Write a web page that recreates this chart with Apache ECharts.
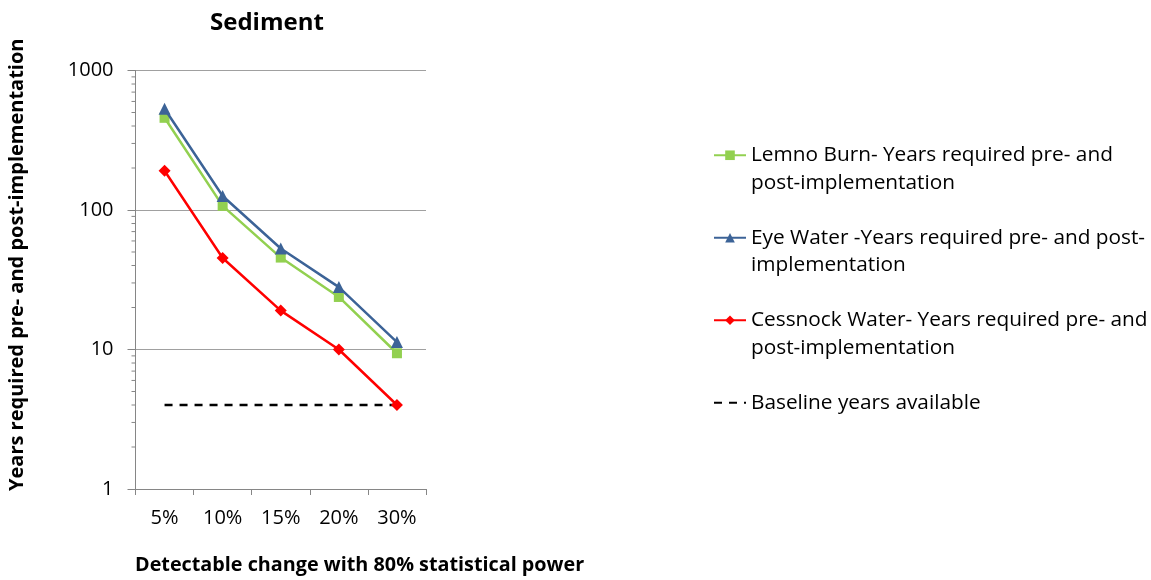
<!DOCTYPE html>
<html>
<head>
<meta charset="utf-8">
<script src="https://cdn.jsdelivr.net/npm/echarts@6/dist/echarts.min.js"></script>
<style>
  html, body { margin: 0; padding: 0; background: #fff; }
  #chart { width: 1151px; height: 580px; }
</style>
</head>
<body>
<div id="chart"></div>
<script>
const FONT = 'Open Sans';
const categories = ['5%', '10%', '15%', '20%', '30%'];
const lemnoBurn = [458, 107, 45.6, 23.8, 9.4];
const eyeWater = [532, 126, 53, 28, 11.3];
const cessnockWater = [191, 45.3, 19, 10, 4];
const baselineYears = [4, 4, 4, 4, 4];
const yMinorTickValues = [2, 3, 4, 5, 6, 7, 8, 9, 20, 30, 40, 50, 60, 70, 80, 90, 200, 300, 400, 500, 600, 700, 800, 900];

const seriesNames = [
  'Lemno Burn- Years required pre- and post-implementation',
  'Eye Water -Years required pre- and post-implementation',
  'Cessnock Water- Years required pre- and post-implementation',
  'Baseline years available'
];
const legendLines = [
  ['Lemno Burn- Years required pre- and', 'post-implementation'],
  ['Eye Water -Years required pre- and post-', 'implementation'],
  ['Cessnock Water- Years required pre- and', 'post-implementation'],
  ['Baseline years available']
];

const chart = echarts.init(document.getElementById('chart'));
const twoLine = { padding: [27.5, 0, 0, 0], backgroundColor: 'rgba(0,0,0,0)' };
const oneLine = { padding: [27.5, 0, 27.5, 0], backgroundColor: 'rgba(0,0,0,0)' };

chart.setOption({
  animation: false,
  textStyle: { fontFamily: FONT },
  title: [
    { text: 'Sediment', left: 210, top: 11, padding: 0,
      textStyle: { fontFamily: FONT, fontSize: 24, fontWeight: 'bold', color: '#000' } },
    { text: 'Detectable change with 80% statistical power', left: 135, top: 555, padding: 0,
      textStyle: { fontFamily: FONT, fontSize: 19.8, fontWeight: 'bold', color: '#000' } }
  ],
  grid: { left: 135.5, right: 725, top: 70.5, bottom: 91, containLabel: false },
  legend: {
    orient: 'vertical', left: 713, top: 114, padding: 0, itemGap: 0,
    itemWidth: 32, itemHeight: 12,
    textStyle: {
      fontFamily: FONT, fontSize: 20.8, lineHeight: 27.5, color: '#000',
      rich: { a: { fontFamily: FONT, fontSize: 20.8, lineHeight: 27.5, color: '#000' } }
    },
    formatter: name => legendLines[seriesNames.indexOf(name)].map(s => '{a|' + s + '}').join('\n'),
    data: [
      { name: seriesNames[0], textStyle: twoLine },
      { name: seriesNames[1], textStyle: twoLine },
      { name: seriesNames[2], textStyle: twoLine },
      { name: seriesNames[3], textStyle: oneLine, itemStyle: { opacity: 0 } }
    ]
  },
  xAxis: {
    type: 'category', data: categories, boundaryGap: true,
    axisLine: { lineStyle: { color: '#868686', width: 1 } },
    axisTick: { show: true, length: 6, lineStyle: { color: '#868686' } },
    axisLabel: { fontFamily: FONT, fontSize: 20, color: '#000', margin: 19 },
    splitLine: { show: false }
  },
  yAxis: {
    type: 'log', logBase: 10, min: 1, max: 1000,
    name: 'Years required pre- and post-implementation',
    nameLocation: 'middle', nameGap: 108,
    nameTextStyle: { fontFamily: FONT, fontSize: 20, fontWeight: 'bold', color: '#000', padding: [0, 0, 0, 30] },
    axisLine: { show: true, lineStyle: { color: '#868686', width: 1 } },
    axisTick: { show: true, length: 8, lineStyle: { color: '#868686' } },
    axisLabel: { fontFamily: FONT, fontSize: 20, color: '#000', margin: 22, formatter: v => String(v) },
    splitLine: { show: true, lineStyle: { color: '#a0a0a0', width: 1 } }
  },
  series: [
    {
      name: seriesNames[3], type: 'line', data: baselineYears,
      symbol: 'none', z: 2,
      lineStyle: { color: '#000', width: 2.5, type: [8, 7] },
      itemStyle: { color: '#000' }
    },
    {
      name: seriesNames[0], type: 'line', data: lemnoBurn,
      symbol: 'rect', symbolSize: 10, z: 3,
      lineStyle: { color: '#92D050', width: 2.5 },
      itemStyle: { color: '#92D050' }
    },
    {
      name: seriesNames[1], type: 'line', data: eyeWater,
      symbol: 'triangle', symbolSize: 12, z: 4,
      lineStyle: { color: '#3C6397', width: 2.5 },
      itemStyle: { color: '#3C6397' }
    },
    {
      name: seriesNames[2], type: 'line', data: cessnockWater,
      symbol: 'diamond', symbolSize: 12, z: 5,
      lineStyle: { color: '#FF0000', width: 2.5 },
      itemStyle: { color: '#FF0000' }
    },
    {
      name: 'minorTicks', type: 'custom', silent: true, z: 1,
      data: yMinorTickValues.map(v => [0, v]),
      encode: { x: 0, y: 1 },
      renderItem: function (params, api) {
        const y = api.coord([0, api.value(1)])[1];
        const x = params.coordSys.x;
        return {
          type: 'line',
          shape: { x1: x - 4, y1: y, x2: x, y2: y },
          style: { stroke: '#868686', lineWidth: 1 }
        };
      }
    }
  ]
});
</script>
</body>
</html>
